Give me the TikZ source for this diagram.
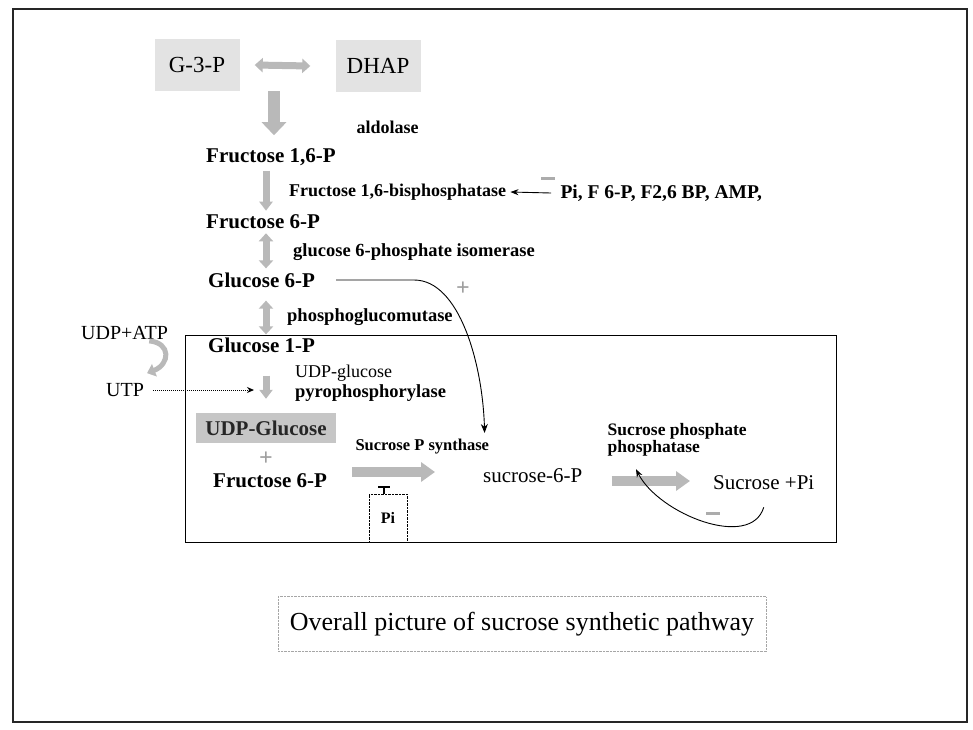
\documentclass[tikz,border=0pt]{standalone}
\usepackage{fontspec}
\setmainfont{Liberation Serif}
\usetikzlibrary{arrows.meta,positioning}

\newcommand{\sz}[1]{\fontsize{#1}{#1}\selectfont}

\begin{document}
\begin{tikzpicture}[x=1pt, y=-1pt,
    metab/.style={font=\bfseries\sz{21}, inner sep=1pt, anchor=west},
    enz/.style={font=\bfseries\sz{18.5}, inner sep=1pt, anchor=west},
    plain/.style={font=\sz{20}, inner sep=1pt, anchor=west},
    triose/.style={fill=gray!22, minimum width=85pt, minimum height=52pt, font=\sz{23}},
    minusbar/.style={fill=gray!65, minimum width=14pt, minimum height=3pt, inner sep=0pt},
    plusbox/.style={font=\bfseries\sz{24}, text=gray!75, inner sep=0pt},
    fatdown/.style={draw=gray!55, line width=7pt, -{Triangle[length=9pt,width=13pt]}},
    fatboth/.style={draw=gray!55, line width=7pt, {Triangle[length=8pt,width=14pt]}-{Triangle[length=8pt,width=14pt]}},
    fatright/.style={draw=gray!55, line width=10pt, -{Triangle[length=14pt,width=19pt]}},
    reg/.style={draw=black, line width=0.9pt, -{Stealth[length=8pt,width=6pt]}}]

  \useasboundingbox (0,0) rectangle (973,729);

  \node[triose] (g3p) at (197,65) {G-3-P};
  \node[triose] (dhap) at (378,66) {DHAP};
  \node[font=\bfseries\sz{18}, anchor=west] (ald) at (353,127) {aldolase};

  \node[metab] (f16p) at (205,157) {Fructose 1,6-P};
  \node[enz, font=\bfseries\sz{18}] (fbpase) at (288,192) {Fructose 1,6-bisphosphatase};
  \node[font=\bfseries\sz{19.5}, anchor=west] (eff) at (557,193) {Pi, F 6-P, F2,6 BP, AMP,};
  \node[minusbar] (minus1) at (548,178) {};
  \node[metab] (f6p) at (205,222) {Fructose 6-P};
  \node[enz] (gpi) at (292,252) {glucose 6-phosphate isomerase};
  \node[metab] (g6p) at (207,280) {Glucose 6-P};
  \node[plusbox] (plus1) at (463,289) {+};
  \node[enz] (pgm) at (286,317) {phosphoglucomutase};
  \node[metab] (g1p) at (207,345) {Glucose 1-P};

  \node[plain] (udpatp) at (80,333) {UDP+ATP};
  \node[plain] (utp) at (105,390) {UTP};
  \node[enz, font=\sz{18}, align=left] (ugp) at (294,383) {UDP-glucose\\[2pt]\textbf{\sz{18.5}pyrophosphorylase}};

  \node[font=\bfseries\sz{21}, fill=gray!45, text=black!85, minimum width=140pt, minimum height=30pt, inner sep=0pt] (udpg) at (266,428) {UDP-Glucose};
  \node[plusbox] (plus2) at (266,459) {+};
  \node[metab] (f6pb) at (212,481) {Fructose 6-P};
  \node[font=\bfseries\sz{16.5}, anchor=west] (sps) at (352,447) {Sucrose P synthase};
  \node[plain, font=\sz{21}] (s6p) at (482,476) {sucrose-6-P};
  \node[font=\bfseries\sz{17.5}, align=left, anchor=west] (spp) at (604,440) {Sucrose phosphate\\phosphatase};
  \node[plain, font=\sz{21}] (sucpi) at (712,483) {Sucrose +Pi};
  \node[minusbar] (minus2) at (713,513) {};
  \node[draw, densely dotted, minimum width=38pt, minimum height=48pt, font=\bfseries\sz{16}] (pi) at (388,518) {Pi};

  \node[draw=gray!70, densely dotted, minimum width=488pt, minimum height=55pt, font=\sz{26}] (cap) at (522,624) {Overall picture of sucrose synthetic pathway};

  \coordinate (acol) at (274,0);
  \coordinate (col) at (266,0);
  \coordinate (ugpin) at (254,390);

  \draw[fatboth] ([xshift=15pt]g3p.east) -- ([xshift=-25pt]dhap.west);
  \draw[draw=gray!55, line width=12pt, -{Triangle[length=13pt,width=24pt]}, shorten >=12pt] (g3p.south -| acol) -- (f16p.north -| acol);
  \draw[fatdown, shorten <=4pt, shorten >=3pt] (f16p.south -| col) -- (f6p.north -| col);
  \draw[fatboth, shorten <=3pt, shorten >=3pt] (f6p.south -| col) -- (g6p.north -| col);
  \draw[fatboth, shorten <=12pt, shorten >=2pt] (g6p.south -| col) -- (g1p.north -| col);
  \draw[fatdown, shorten <=22pt, shorten >=14pt] (g1p.south -| col) -- (udpg.north -| col);

  \draw[reg] ([xshift=-6pt]eff.west) -- ([xshift=3pt]fbpase.east);
  \draw[reg, -{Stealth[length=9pt,width=7pt]}] ([xshift=20pt]g6p.east) -- ++(78,0) .. controls +(45,0) and +(-2,-70) .. ([xshift=-8pt,yshift=3pt]sps.north east);

  \draw[draw=gray!55, line width=5pt, -{Triangle[length=8pt,width=13pt]}] ([xshift=-20pt]udpatp.south east) .. controls +(22,2) and +(23,-9) .. ([xshift=42pt,yshift=9pt]utp.north west);
  \draw[densely dotted, line width=1pt, -{Stealth[length=7pt,width=6pt]}] ([xshift=8pt]utp.east) -- (ugpin);

  \draw[fatright, shorten <=24pt, shorten >=47pt] ([yshift=9pt]f6pb.east) -- ([yshift=4pt]s6p.west);
  \draw[fatright, shorten <=28pt, shorten >=22pt] ([yshift=-5pt]s6p.east) -- ([yshift=2pt]sucpi.west);
  \draw[line width=1.2pt, -{Bar[width=12pt,line width=2.5pt]}] ([xshift=-4pt]pi.north) -- ([xshift=-4pt,yshift=8pt]pi.north);
  \draw[reg] ([yshift=-16pt]sucpi.south) .. controls +(-13,43) and +(23,45) .. ([xshift=32pt,yshift=-9pt]spp.south west);

  \draw[line width=0.8pt] (185,335) rectangle (836,542);
  \draw[line width=2pt, black!85] (13,9) rectangle (967,722);
\end{tikzpicture}
\end{document}
